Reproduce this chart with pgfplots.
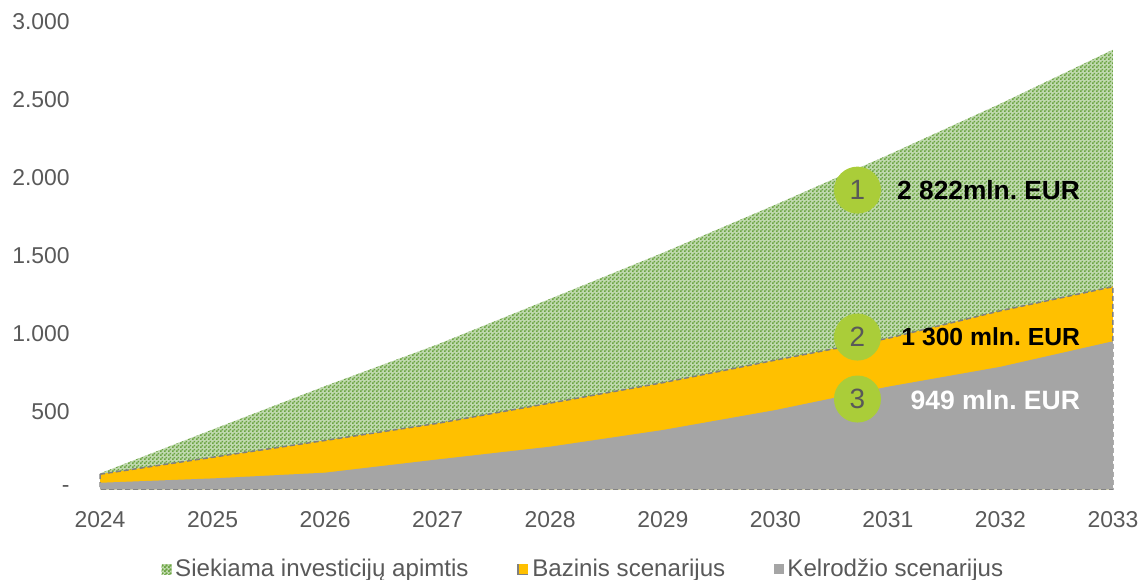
\documentclass[border=0pt]{standalone}
\usepackage{pgfplots}
\pgfplotsset{compat=1.18}
\usepackage{pgfplotstable}
\usepackage{fontspec}
\setmainfont{Liberation Sans}
\usetikzlibrary{patterns}

\definecolor{vgreen}{HTML}{6AA441}
\definecolor{vyellow}{HTML}{FFC000}
\definecolor{vgray}{HTML}{A5A5A5}
\definecolor{circgreen}{HTML}{AACD39}
\definecolor{labelgray}{HTML}{595959}
\definecolor{dashgray}{HTML}{808080}
\definecolor{axisgray}{HTML}{D9D9D9}

\pgfdeclarepatternformonly{checker}{\pgfpoint{0bp}{0bp}}{\pgfpoint{2bp}{2bp}}{\pgfpoint{2bp}{2bp}}{%
  \pgfpathrectangle{\pgfpoint{0bp}{0bp}}{\pgfpoint{1bp}{1bp}}%
  \pgfpathrectangle{\pgfpoint{1bp}{1bp}}{\pgfpoint{1bp}{1bp}}%
  \pgfusepath{fill}}

\pgfplotstableread{
year target base guide
2024 100 95 40
2025 382 204 68
2026 661 312 105
2027 929 422 190
2028 1222 552 272
2029 1517 683 379
2030 1826 828 507
2031 2145 968 657
2032 2475 1145 785
2033 2822 1300 949
}\data

\begin{document}
\begin{tikzpicture}
\begin{axis}[
  scale only axis,
  width=506.5bp, height=233.5bp,
  xmin=2024, xmax=2033, ymin=0, ymax=3000,
  axis x line*=bottom, axis y line*=left,
  x axis line style={draw=axisgray, line width=0.75bp, -},
  y axis line style={draw=none},
  xtick={2024,2025,2026,2027,2028,2029,2030,2031,2032,2033},
  xticklabels={2024,2025,2026,2027,2028,2029,2030,2031,2032,2033},
  ytick={0,500,1000,1500,2000,2500,3000},
  yticklabels={-,500,1.000,1.500,2.000,2.500,3.000},
  major tick length=0pt,
  tick label style={font=\fontsize{11.5}{13}\selectfont, text=labelgray},
  yticklabel style={anchor=east, inner sep=0pt, xshift=-15bp},
  xticklabel style={anchor=north, inner sep=0pt, yshift=-11bp},
  clip=false,
  legend columns=3,
  legend style={at={(0.478,-0.172)}, anchor=center, draw=none, fill=none,
    font=\fontsize{12.1}{14}\selectfont, text=labelgray,
    /tikz/every even column/.append style={column sep=22.5bp},
    inner sep=0pt, nodes={inner xsep=1.8bp}},
]
\addplot[draw=none, fill=vgreen!42!white, postaction={pattern=checker, pattern color=vgreen},
  legend image code/.code={\fill[vgreen!42!white, postaction={pattern=checker, pattern color=vgreen}] (0bp,-2.5bp) rectangle (5bp,2.5bp);}]
  table[x=year, y=target] {\data} \closedcycle;
\addlegendentry{Siekiama investicijų apimtis}
\addplot[fill=vyellow, draw=dashgray, line width=0.75bp, dash pattern=on 2.5bp off 1.5bp,
  legend image code/.code={\path[fill=vyellow, draw=none] (0bp,-2.5bp) rectangle (5bp,2.5bp); \path[draw=dashgray, fill=none, line width=0.75bp, solid] (0bp,2.5bp) -- (0bp,-2.5bp) -- (5bp,-2.5bp);}]
  table[x=year, y=base] {\data} \closedcycle;
\addlegendentry{Bazinis scenarijus}
\addplot[fill=vgray, draw=none,
  legend image code/.code={\fill[vgray] (0bp,-2.5bp) rectangle (5bp,2.5bp);}]
  table[x=year, y=guide] {\data} \closedcycle;
\addlegendentry{Kelrodžio scenarijus}

\node[circle, fill=circgreen, minimum size=23.5bp, inner sep=0pt, font=\fontsize{14}{16}\selectfont, text=labelgray] at (axis cs:2030.73,1920) {1};
\node[circle, fill=circgreen, minimum size=23.5bp, inner sep=0pt, font=\fontsize{14}{16}\selectfont, text=labelgray] at (axis cs:2030.73,976) {2};
\node[circle, fill=circgreen, minimum size=23.5bp, inner sep=0pt, font=\fontsize{14}{16}\selectfont, text=labelgray] at (axis cs:2030.73,578) {3};
\node[anchor=east, inner sep=0pt, font=\bfseries\fontsize{13.2}{15}\selectfont, text=black] at (axis cs:2032.71,1920) {2 822mln.\ EUR};
\node[anchor=east, inner sep=0pt, font=\bfseries\fontsize{12.4}{15}\selectfont, text=black] at (axis cs:2032.71,976) {1 300 mln.\ EUR};
\node[anchor=east, inner sep=0pt, font=\bfseries\fontsize{13.3}{15}\selectfont, text=white] at (axis cs:2032.71,574) {949 mln.\ EUR};
\coordinate (O) at (rel axis cs:0,0);
\end{axis}
\pgfresetboundingbox
\path[use as bounding box] ([shift={(-50bp,-45.5bp)}]O) rectangle ([shift={(520bp,244.5bp)}]O);
\end{tikzpicture}
\end{document}
